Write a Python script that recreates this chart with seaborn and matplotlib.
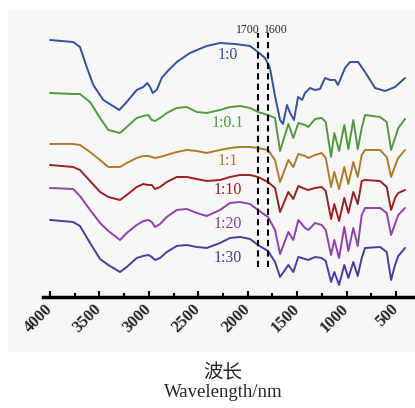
import matplotlib
matplotlib.use("Agg")
import matplotlib.pyplot as plt
import matplotlib.patches as mpatches
from matplotlib.ticker import MultipleLocator
import pandas as pd
import seaborn as sns

# spectrum of the pure sample (own sampling grid)
blue_wn = [4000, 3765, 3697, 3629, 3562, 3461, 3299, 3224, 3123, 3056, 3016, 2988, 2961,
           2921, 2870, 2819, 2718, 2584, 2415, 2280, 2129, 1977, 1896, 1825, 1775, 1724,
           1673, 1643, 1603, 1572, 1532, 1491, 1451, 1420, 1370, 1319, 1269, 1218, 1167,
           1117, 1087, 1016, 965, 884, 813, 712, 611, 510, 409]
ratio_0 = [257, 255, 250, 230, 212, 197, 187, 195, 207, 210, 214, 210, 204,
           207, 219, 225, 235, 244, 251, 254, 253, 251, 245, 239, 229, 201,
           177, 173, 192, 184, 177, 200, 197, 204, 209, 207, 208, 219, 217,
           217, 212, 229, 235, 235, 225, 209, 206, 210, 219]

# shared grid for the mixed samples
mix_wn = [4000, 3767, 3697, 3595, 3494, 3410, 3292, 3224, 3123, 3056, 3006, 2971, 2938,
          2887, 2819, 2718, 2617, 2516, 2415, 2280, 2179, 2078, 1977, 1896, 1795,
          1724, 1673, 1589, 1539, 1488, 1420, 1387, 1319, 1252, 1211, 1157, 1124, 1076,
          1023, 982, 932, 887, 847, 813, 662, 594, 550, 510, 477, 409]
ratio_01 = [204, 203, 203, 195, 179, 167, 164, 170, 179, 181, 182, 177, 176,
            179, 184, 189, 190, 185, 184, 187, 190, 191, 189, 185, 182,
            179, 146, 173, 159, 174, 172, 170, 178, 179, 175, 140, 164, 146,
            172, 148, 177, 148, 169, 182, 180, 175, 147, 159, 169, 178]
ratio_1 = [153, 153, 152, 145, 137, 130, 130, 134, 139, 141, 141, 140, 139,
           140, 142, 145, 147, 146, 144, 147, 149, 150, 150, 149, 147,
           137, 115, 137, 130, 143, 141, 139, 142, 144, 139, 110, 125, 108,
           130, 113, 135, 120, 142, 147, 147, 140, 120, 131, 139, 147]
ratio_10 = [132, 130, 127, 116, 105, 100, 97, 102, 110, 113, 112, 112, 108,
            110, 115, 120, 120, 118, 116, 117, 120, 122, 122, 120, 115,
            109, 85, 105, 98, 111, 108, 107, 109, 110, 106, 78, 93, 76,
            99, 84, 105, 93, 116, 117, 116, 110, 87, 99, 104, 107]
ratio_20 = [109, 108, 101, 87, 74, 66, 57, 64, 72, 76, 77, 75, 70,
            73, 80, 87, 88, 84, 81, 87, 94, 95, 93, 87, 80,
            67, 43, 65, 57, 77, 69, 67, 74, 72, 67, 42, 57, 39,
            70, 46, 69, 51, 82, 89, 89, 84, 62, 73, 82, 89]
ratio_30 = [77, 75, 71, 54, 38, 32, 25, 30, 39, 41, 42, 40, 37,
            39, 45, 51, 52, 50, 49, 54, 59, 60, 58, 52, 46,
            35, 20, 32, 25, 40, 38, 37, 40, 39, 36, 15, 25, 12,
            32, 19, 35, 21, 39, 49, 50, 45, 17, 32, 41, 49]

labels = ["1:0", "1:0.1", "1:1", "1:10", "1:20", "1:30"]
colors = ["#34509a", "#4f9a3c", "#b07a2c", "#9b2020", "#9040a8", "#4a3c9c"]
label_h = [242, 174, 136, 107, 73, 39]
label_wn = 2204
dash_wn = [1897, 1796]
dash_text = ["1700", "1600"]
dash_text_wn = [2000, 1716]
xticks = [4000, 3500, 3000, 2500, 2000, 1500, 1000, 500]

frames = []
for lab, x, y in zip(labels, [blue_wn] + [mix_wn] * 5,
                     [ratio_0, ratio_01, ratio_1, ratio_10, ratio_20, ratio_30]):
    frames.append(pd.DataFrame({"wn": x, "T": y, "ratio": lab}))
df = pd.concat(frames, ignore_index=True)

sns.set_theme(style="white")
plt.rcParams['font.family'] = ['Liberation Serif', 'Noto Sans CJK SC']

fig = plt.figure(figsize=(4.15, 4.08), dpi=100)
fig.patches.append(mpatches.Rectangle((0.019, 0.137), 0.981, 0.838, transform=fig.transFigure,
                                      facecolor='#f7f7f7', edgecolor='none', zorder=-10))
ax = fig.add_axes([0.1036, 0.2721, 0.8964, 0.6985])
ax.set_facecolor('none')

sns.lineplot(data=df, x="wn", y="T", hue="ratio", palette=dict(zip(labels, colors)),
             estimator=None, sort=False, legend=False, linewidth=1.4, ax=ax)
for ln in ax.get_lines():
    ln.set_solid_joinstyle('round')

ax.set_xlim(4071, 308)
ax.set_ylim(0, 285)
for s in ['left', 'top', 'right']:
    ax.spines[s].set_visible(False)
ax.spines['bottom'].set_linewidth(2.5)
ax.spines['bottom'].set_color('black')
ax.set_yticks([])
ax.set_xlabel('')
ax.set_ylabel('')

ax.xaxis.set_minor_locator(MultipleLocator(250))
ax.set_xticks(xticks)
ax.set_xticklabels([str(t) for t in xticks], rotation=45, ha='right', va='center',
                   rotation_mode='anchor', fontweight='bold', fontsize=12)
ax.tick_params(axis='x', which='both', direction='in', length=4, width=1.5,
               color='black', pad=7, bottom=True)
ax.tick_params(axis='x', which='minor', length=3)

ax.vlines(dash_wn, 30, 264, colors='black', linestyles=(0, (3, 2)), linewidth=1.5)
for wn, t in zip(dash_text_wn, dash_text):
    ax.text(wn, 267, t, ha='center', va='center', fontsize=8.5)

for lab, c, h in zip(labels, colors, label_h):
    ax.text(label_wn, h, lab, color=c, fontsize=11.5, ha='center', va='center')

fig.text(0.538, 0.086, "波长", ha='center', va='center', fontsize=14,
         family=['Noto Sans CJK SC'])
fig.text(0.538, 0.037, "Wavelength/nm", ha='center', va='center', fontsize=13.5)

fig.savefig("out.png", dpi=100)
